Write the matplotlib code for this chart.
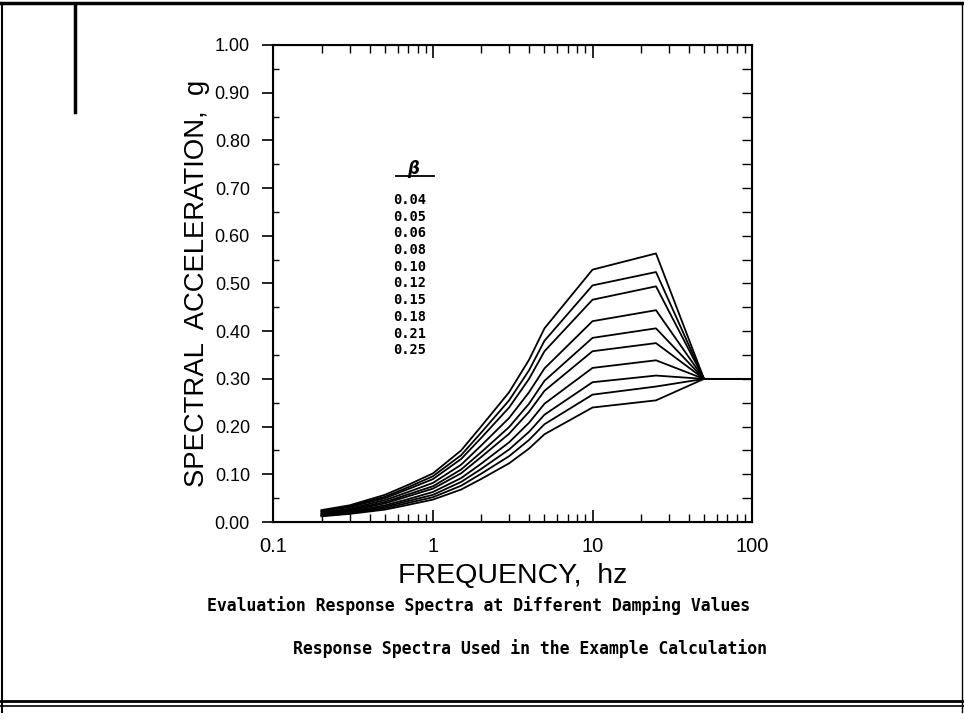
import numpy as np
import matplotlib.pyplot as plt
from matplotlib.lines import Line2D
from matplotlib.ticker import FixedLocator, NullFormatter, LogLocator

# frequencies (hz) and spectral acceleration (g) for each damping ratio
freq = [0.2, 0.3, 0.5, 0.7, 1.0, 1.5, 2.0, 3.0, 4.0, 5.0, 10.0, 25.0, 50.0, 100.0]
damping = ['0.04', '0.05', '0.06', '0.08', '0.10', '0.12', '0.15', '0.18', '0.21', '0.25']

sa_004 = [0.025, 0.035, 0.057, 0.078, 0.102, 0.150, 0.200, 0.272, 0.340, 0.406, 0.529, 0.563, 0.30, 0.30]
sa_005 = [0.023, 0.033, 0.053, 0.073, 0.096, 0.140, 0.187, 0.255, 0.318, 0.380, 0.496, 0.524, 0.30, 0.30]
sa_006 = [0.022, 0.031, 0.050, 0.069, 0.090, 0.132, 0.176, 0.240, 0.300, 0.358, 0.466, 0.494, 0.30, 0.30]
sa_008 = [0.020, 0.028, 0.046, 0.063, 0.082, 0.120, 0.160, 0.218, 0.272, 0.322, 0.421, 0.444, 0.30, 0.30]
sa_010 = [0.018, 0.026, 0.042, 0.058, 0.075, 0.110, 0.146, 0.199, 0.248, 0.296, 0.386, 0.406, 0.30, 0.30]
sa_012 = [0.017, 0.024, 0.039, 0.054, 0.070, 0.102, 0.136, 0.185, 0.231, 0.275, 0.358, 0.375, 0.30, 0.30]
sa_015 = [0.015, 0.022, 0.035, 0.048, 0.063, 0.092, 0.122, 0.167, 0.208, 0.248, 0.323, 0.339, 0.30, 0.30]
sa_018 = [0.014, 0.020, 0.032, 0.044, 0.057, 0.084, 0.111, 0.152, 0.189, 0.225, 0.293, 0.307, 0.30, 0.30]
sa_021 = [0.013, 0.018, 0.029, 0.040, 0.052, 0.076, 0.101, 0.138, 0.172, 0.205, 0.267, 0.284, 0.30, 0.30]
sa_025 = [0.012, 0.017, 0.026, 0.036, 0.047, 0.068, 0.090, 0.123, 0.154, 0.184, 0.240, 0.255, 0.30, 0.30]

curves = [sa_004, sa_005, sa_006, sa_008, sa_010, sa_012, sa_015, sa_018, sa_021, sa_025]

yticks = [0.0, 0.1, 0.2, 0.3, 0.4, 0.5, 0.6, 0.7, 0.8, 0.9, 1.0]
xticks = [0.1, 1, 10, 100]
xticklabels = ['0.1', '1', '10', '100']

fig = plt.figure(figsize=(9.64, 7.22), dpi=100)
ax = fig.add_axes([0.2837, 0.277, 0.4964, 0.6607])

for sa in curves:
    ax.plot(freq, sa, color='black', lw=1.3)

ax.set_xscale('log')
ax.set_xlim(0.1, 100)
ax.set_ylim(0, 1.0)

lab_font = 'Liberation Sans'

ax.set_xticks(xticks)
ax.set_xticklabels(xticklabels, fontsize=14.5, family=lab_font)
ax.xaxis.set_minor_locator(LogLocator(base=10, subs=np.arange(2, 10)))
ax.xaxis.set_minor_formatter(NullFormatter())
ax.tick_params(axis='x', which='major', direction='in', length=9, width=1.2,
               top=True, pad=11)
ax.tick_params(axis='x', which='minor', direction='in', length=6, width=1.0, top=True)

ax.set_yticks(yticks)
ax.set_yticklabels(['%.2f' % v for v in yticks], fontsize=13, family=lab_font)
ax.yaxis.set_minor_locator(FixedLocator(np.arange(0.05, 1.0, 0.1)))
ax.tick_params(axis='y', which='major', direction='out', length=8, width=1.2, pad=9)
ax.tick_params(axis='y', which='minor', direction='in', length=4, width=1.0)

# right side: inward ticks every 0.05
axr = ax.twinx()
axr.set_ylim(0, 1.0)
axr.set_yticks(np.arange(0.05, 1.0, 0.05))
axr.set_yticklabels([])
axr.tick_params(axis='y', direction='in', length=7, width=1.0)

for s in ax.spines.values():
    s.set_linewidth(1.5)

ax.set_ylabel('SPECTRAL  ACCELERATION,  g', fontsize=19.8, family=lab_font, labelpad=3)
ax.set_xlabel('FREQUENCY,  hz', fontsize=20.5, family=lab_font, labelpad=5)

# damping legend
ax.text(0.292, 0.729, 'β', transform=ax.transAxes, fontsize=12,
        fontweight='bold', style='italic', ha='center', va='baseline')
ax.add_line(Line2D([0.255, 0.335], [0.726, 0.726], transform=ax.transAxes,
                   color='black', lw=1.3))
for i, d in enumerate(damping):
    ax.text(0.25, 0.675 - i * 0.035, d, transform=ax.transAxes,
            family='DejaVu Sans Mono', fontweight='bold', fontsize=9.8,
            ha='left', va='center')

fig.text(0.4965, 0.162, 'Evaluation Response Spectra at Different Damping Values',
         family='DejaVu Sans Mono', fontweight='bold', fontsize=11.9,
         ha='center', va='center')
fig.text(0.550, 0.102, 'Response Spectra Used in the Example Calculation',
         family='DejaVu Sans Mono', fontweight='bold', fontsize=11.9,
         ha='center', va='center')

# page border from the scanned sheet
W, H = 964.0, 722.0
def fl(x0, y0, x1, y1, lw):
    fig.add_artist(Line2D([x0 / W, x1 / W], [1 - y0 / H, 1 - y1 / H],
                          transform=fig.transFigure, color='black', lw=lw))

fl(0, 3, 964, 3, 2.5)
fl(2, 3, 2, 712, 1.5)
fl(962, 3, 962, 712, 1.0)
fl(75, 4, 75, 112, 2.5)
fl(0, 701, 964, 701, 2.0)
fl(0, 706, 964, 706, 1.2)

fig.savefig('out.png', dpi=100)
